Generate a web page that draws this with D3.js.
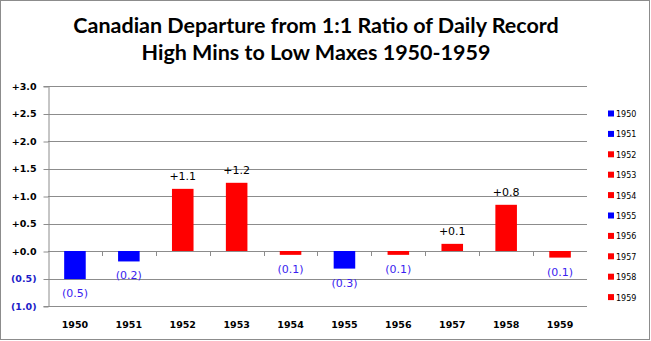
<!DOCTYPE html>
<html>
<head>
<meta charset="utf-8">
<script src="https://cdn.jsdelivr.net/npm/d3@7"></script>
<style>
  body { margin: 0; background: #fff; }
  svg { display: block; }
</style>
</head>
<body>
<div id="viz"></div>
<script>
(function departureChart() {
  const svgWidth = 651;
  const svgHeight = 341;
  const margin = { top: 86, right: 64, bottom: 35, left: 48 };

  const blueColor = '#0000ff';
  const redColor = '#ff0000';
  const gridColor = '#8c8c8c';
  const negLabelColor = '#3a1ef0';

  const years = ['1950', '1951', '1952', '1953', '1954', '1955', '1956', '1957', '1958', '1959'];
  const departures = [-0.51, -0.19, 1.13, 1.24, -0.07, -0.32, -0.07, 0.13, 0.84, -0.12];
  const yTicks = [-1, -0.5, 0, 0.5, 1, 1.5, 2, 2.5, 3];
  const titleLines = ['Canadian Departure from 1:1 Ratio of Daily Record', 'High Mins to Low Maxes 1950-1959'];

  const fmt = (v) => {
    const s = Math.abs(v).toFixed(1);
    return v < 0 ? `(${s})` : `+${s}`;
  };

  const x = d3.scaleBand()
    .domain(years)
    .range([margin.left, svgWidth - margin.right])
    .paddingInner(0.6)
    .paddingOuter(0.3);

  const y = d3.scaleLinear()
    .domain([-1, 3])
    .range([svgHeight - margin.bottom, margin.top]);

  const svg = d3.select('#viz').append('svg')
    .attr('width', svgWidth)
    .attr('height', svgHeight);

  // outer frame
  svg.append('rect')
    .attr('x', 0.5).attr('y', 0.5)
    .attr('width', svgWidth - 2).attr('height', svgHeight - 2)
    .attr('fill', '#fff')
    .attr('stroke', '#8c8c8c');

  // title
  svg.append('g').selectAll('text')
    .data(titleLines)
    .enter()
    .append('text')
    .attr('x', 316)
    .attr('y', (d, i) => 33 + i * 27)
    .attr('text-anchor', 'middle')
    .style('font-family', 'Lato, "Open Sans", sans-serif')
    .style('font-weight', 'bold')
    .style('font-size', '21.5px')
    .style('fill', '#000')
    .text(d => d);

  // gridlines
  svg.append('g').selectAll('line')
    .data(yTicks)
    .enter()
    .append('line')
    .attr('x1', margin.left)
    .attr('x2', svgWidth - margin.right)
    .attr('y1', d => Math.round(y(d)) + 0.5)
    .attr('y2', d => Math.round(y(d)) + 0.5)
    .attr('stroke', gridColor);

  // y axis
  const yAxis = svg.append('g')
    .attr('transform', `translate(${margin.left + 0.5},0)`)
    .call(d3.axisLeft(y).tickValues(yTicks).tickSize(5).tickFormat(fmt));
  yAxis.select('.domain').attr('stroke', gridColor);
  yAxis.selectAll('.tick line').attr('stroke', gridColor)
    .attr('transform', 'translate(0,0.5)');
  yAxis.selectAll('.tick text')
    .attr('x', -12)
    .style('font-family', '"DejaVu Sans", Verdana, sans-serif')
    .style('font-weight', 'bold')
    .style('font-size', '9.5px')
    .style('fill', d => (d < 0 ? '#1c1cc8' : '#000'));

  // category ticks at zero line
  const bounds = years.slice(1).map(d => x(d) - x.step() * x.paddingInner() / 2);
  svg.append('g').selectAll('line')
    .data(bounds)
    .enter()
    .append('line')
    .attr('x1', d => Math.round(d) + 0.5)
    .attr('x2', d => Math.round(d) + 0.5)
    .attr('y1', Math.round(y(0)))
    .attr('y2', Math.round(y(0)) + 5)
    .attr('stroke', gridColor);

  // year labels
  svg.append('g').selectAll('text')
    .data(years)
    .enter()
    .append('text')
    .attr('x', d => x(d) + x.bandwidth() / 2)
    .attr('y', svgHeight - margin.bottom + 22)
    .attr('text-anchor', 'middle')
    .style('font-family', '"DejaVu Sans", Verdana, sans-serif')
    .style('font-weight', 'bold')
    .style('font-size', '9.5px')
    .text(d => d);

  // bars
  const data = years.map((d, i) => ({ year: d, value: departures[i] }));
  svg.append('g').selectAll('rect')
    .data(data)
    .enter()
    .append('rect')
    .attr('x', d => x(d.year))
    .attr('width', x.bandwidth())
    .attr('y', d => y(Math.max(0, d.value)))
    .attr('height', d => Math.abs(y(d.value) - y(0)))
    .attr('fill', d => (d.year === '1950' || d.year === '1951' || d.year === '1955' ? blueColor : redColor));

  // value labels
  svg.append('g').selectAll('text')
    .data(data)
    .enter()
    .append('text')
    .attr('x', d => x(d.year) + x.bandwidth() / 2)
    .attr('y', d => (d.value < 0 ? y(d.value) + 18 : y(d.value) - 9))
    .attr('text-anchor', 'middle')
    .style('font-family', '"DejaVu Sans", Verdana, sans-serif')
    .style('font-size', '11px')
    .style('fill', d => (d.value < 0 ? negLabelColor : '#000'))
    .text(d => fmt(d.value));

  // legend
  const legend = svg.append('g').selectAll('g')
    .data(data)
    .enter()
    .append('g')
    .attr('transform', (d, i) => `translate(608,${114 + i * 20.4})`);
  legend.append('rect')
    .attr('x', 0).attr('y', -3.5)
    .attr('width', 6).attr('height', 6)
    .attr('fill', d => (d.year === '1950' || d.year === '1951' || d.year === '1955' ? blueColor : redColor));
  legend.append('text')
    .attr('x', 8)
    .attr('y', 3)
    .style('font-family', '"DejaVu Sans", Verdana, sans-serif')
    .style('font-size', '8px')
    .text(d => d.year);
}());
</script>
</body>
</html>
